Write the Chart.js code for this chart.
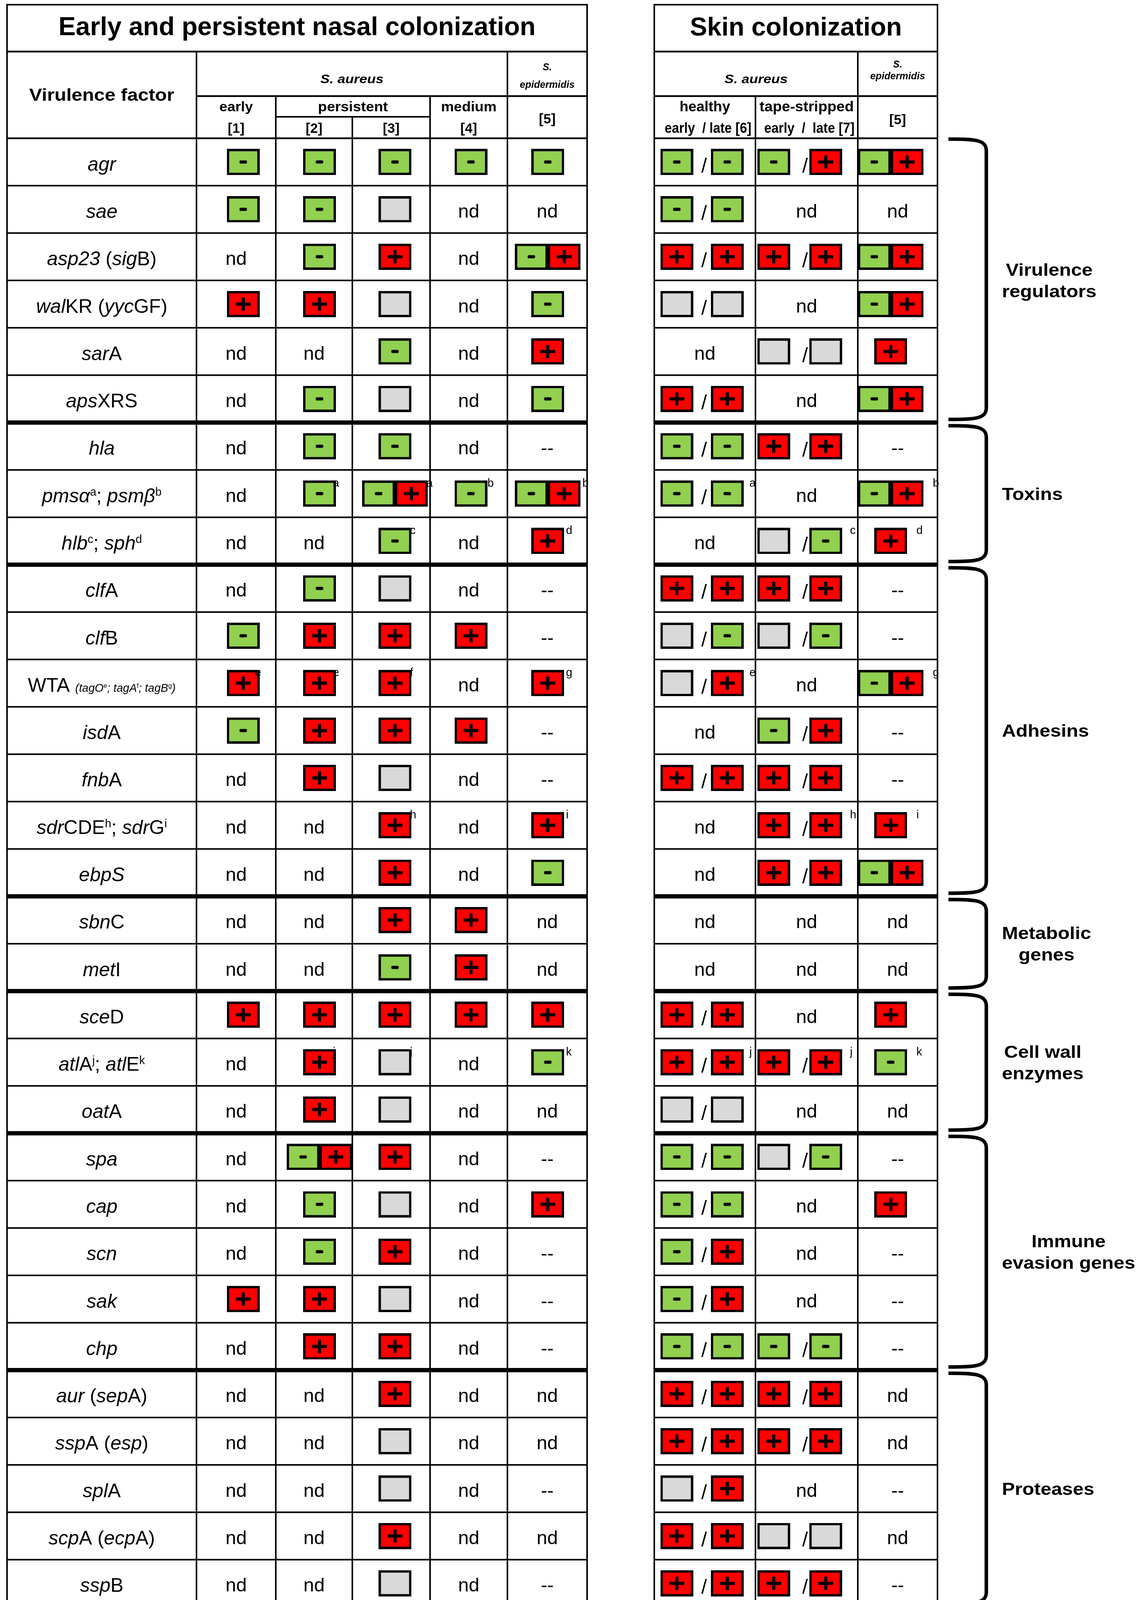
<!DOCTYPE html>
<html>
<head>
<meta charset="utf-8">
<title>Virulence factor expression during colonization</title>
<script src="https://cdn.jsdelivr.net/npm/chart.js@4.4.1/dist/chart.umd.min.js"></script>
<style>
  html, body { margin: 0; padding: 0; background: #ffffff; overflow: hidden; }
  canvas { display: block; }
</style>
</head>
<body>
<canvas id="chart" width="2921" height="4145" style="width:2921px;height:4145px"></canvas>
<script>
// ---------------- DATA ----------------
// Markup in gene labels: _x_ = italic, ^c = superscript char, ~x~ = small text
const GENES = [
  '_agr_', '_sae_', '_asp23_ (_sig_B)', '_wal_KR (_yyc_GF)', '_sar_A', '_aps_XRS',
  '_hla_', '_pmsα_^a; _psmβ_^b', '_hlb_^c; _sph_^d',
  '_clf_A', '_clf_B', 'WTA ~_(tagO_^e_; tagA_^f_; tagB_^g_)_~', '_isd_A', '_fnb_A', '_sdr_CDE^h; _sdr_G^i', '_ebpS_',
  '_sbn_C', '_met_I',
  '_sce_D', '_atl_A^j; _atl_E^k', '_oat_A',
  '_spa_', '_cap_', '_scn_', '_sak_', '_chp_',
  '_aur_ (_sep_A)', '_ssp_A (_esp_)', '_spl_A', '_scp_A (_ecp_A)', '_ssp_B'
];
const GROUP_NAMES = ['Virulence\nregulators', 'Toxins', 'Adhesins', 'Metabolic\ngenes', 'Cell wall\nenzymes', 'Immune\nevasion genes', 'Proteases'];
const GROUP_SIZES = [6, 3, 7, 2, 3, 5, 5];

const TITLES = ['Early and persistent nasal colonization', 'Skin colonization'];
const ROW_HEADER = 'Virulence factor';
const SPECIES = ['S. aureus', 'S.', 'epidermidis'];
const NASAL_GROUPS = ['early', 'persistent', 'medium'];
const NASAL_REFS = ['[1]', '[2]', '[3]', '[4]', '[5]'];
const SKIN_GROUPS = ['healthy', 'tape-stripped'];
const SKIN_REFS = ['early  / late [6]', 'early  /  late [7]', '[5]'];

// Cell codes: '-' decreased (green), '+' increased (red), '0' unchanged (grey),
// '-+' both, 'nd' not determined, '--' not applicable; '^x' footnote; 'a/b' early/late
const NASAL_EARLY_1 = ['-','-','nd','+','nd','nd','nd','nd','nd','nd','-','+^e','-','nd','nd','nd','nd','nd','+','nd','nd','nd','nd','nd','+','nd','nd','nd','nd','nd','nd'];
const NASAL_PERSISTENT_2 = ['-','-','-','+','nd','-','-','-^a','nd','-','+','+^e','+','+','nd','nd','nd','nd','+','+^j','+','-+','-','-','+','+','nd','nd','nd','nd','nd'];
const NASAL_PERSISTENT_3 = ['-','0','+','0','-','0','-','-+^a','-^c','0','+','+^f','+','0','+^h','+','+','-','+','0^j','0','+','0','+','0','+','+','0','0','+','0'];
const NASAL_MEDIUM_4 = ['-','nd','nd','nd','nd','nd','nd','-^b','nd','nd','+','nd','+','nd','nd','nd','+','+','+','nd','nd','nd','nd','nd','nd','nd','nd','nd','nd','nd','nd'];
const NASAL_SEPI_5 = ['-','nd','-+','-','+','-','--','-+^b','+^d','--','--','+^g','--','--','+^i','-','nd','nd','+','-^k','nd','--','+','--','--','--','nd','nd','--','nd','--'];
const SKIN_HEALTHY_6 = ['-/-','-/-','+/+','0/0','nd','+/+','-/-','-/-^a','nd','+/+','0/-','0/+^e','nd','+/+','nd','nd','nd','nd','+/+','+/+^j','0/0','-/-','-/-','-/+','-/+','-/-','+/+','+/+','0/+','+/+','+/+'];
const SKIN_TAPE_7 = ['-/+','nd','+/+','nd','0/0','nd','+/+','nd','0/-^c','+/+','0/-','nd','-/+','+/+','+/+^h','+/+','nd','nd','nd','+/+^j','nd','0/-','nd','nd','nd','-/-','+/+','+/+','nd','0/0','+/+'];
const SKIN_SEPI_5 = ['-+','nd','-+','-+','+','-+','--','-+^b','+^d','--','--','-+^g','--','--','+^i','-+','nd','nd','+','-^k','nd','--','+','--','--','--','nd','nd','--','nd','--'];

// ---------------- LAYOUT / STYLE ----------------
const LAYOUT = {
  left: [18, 503, 706, 902, 1101, 1299, 1503],
  right: [1675, 1934, 2196, 2400],
  top: 12, titleBottom: 132, subBottom: 246, persistBottom: 299,
  padTop: 354, padBottom: 21,
  thin: 4, thick: 11,
  box: { w: 84, h: 67, border: 6 },
  bracketX0: 2428, bracketX1: 2525, bracketW: 9,
  groupLabelLeft: 2565
};
const FILL = { '-': '#92D050', '+': '#FF0000', '0': '#D9D9D9' };
const FAMILY = '"Liberation Sans", Arial, Helvetica, sans-serif';
const font = (size, bold, italic) => `${italic ? 'italic ' : ''}${bold ? 'bold ' : ''}${size}px ${FAMILY}`;
const mid = (a, b) => (a + b) / 2;

const L = LAYOUT.left, R = LAYOUT.right;
const COLUMNS = [
  { values: NASAL_EARLY_1, cx: mid(L[1], L[2]) },
  { values: NASAL_PERSISTENT_2, cx: mid(L[2], L[3]) },
  { values: NASAL_PERSISTENT_3, cx: mid(L[3], L[4]) },
  { values: NASAL_MEDIUM_4, cx: mid(L[4], L[5]) },
  { values: NASAL_SEPI_5, cx: mid(L[5], L[6]) },
  { values: SKIN_HEALTHY_6, cx: mid(R[0], R[1]), pair: [-66, 66], slash: -2 },
  { values: SKIN_TAPE_7, cx: mid(R[1], R[2]), pair: [-73, 63], slash: -4 },
  { values: SKIN_SEPI_5, cx: mid(R[2], R[3]) }
];

function parseCell(v) {
  if (v === 'nd' || v === '--') return { text: v, codes: [], note: '' };
  const [main, note] = v.split('^');
  return { text: null, codes: main.split('/'), note: note || '' };
}

// icons used as Chart.js point styles
function makeIcon(parts) {
  const { w, h, border: b } = LAYOUT.box;
  const c = document.createElement('canvas');
  c.width = w * parts.length; c.height = h;
  const g = c.getContext('2d');
  parts.forEach((p, k) => {
    const x0 = k * w;
    g.fillStyle = '#000'; g.fillRect(x0, 0, w, h);
    g.fillStyle = FILL[p]; g.fillRect(x0 + b, b, w - 2 * b, h - 2 * b);
    g.fillStyle = '#000';
    const cx = x0 + w / 2, cy = h / 2;
    if (p === '-') {
      g.beginPath();
      g.roundRect(cx - 9.5, cy - 4, 19, 8, 3);
      g.fill();
    } else if (p === '+') {
      g.fillRect(cx - 4, cy - 17, 8, 34);
      g.fillRect(cx - 19, cy - 4, 38, 8);
    }
  });
  return c;
}
const ICONS = { '-': makeIcon(['-']), '+': makeIcon(['+']), '0': makeIcon(['0']), '-+': makeIcon(['-', '+']) };

// datasets: one per column, a point per box
const datasets = COLUMNS.map((col, ci) => {
  const data = [];
  col.values.forEach((v, i) => {
    const cell = parseCell(v);
    if (cell.text) return;
    if (col.pair) {
      cell.codes.forEach((code, k) => data.push({ x: col.cx + col.pair[k], y: GENES[i], icon: code }));
    } else {
      data.push({ x: col.cx, y: GENES[i], icon: cell.codes[0] });
    }
  });
  return {
    label: 'column ' + ci,
    data,
    pointStyle: (c) => ICONS[c.raw.icon],
    pointRadius: 30,
    pointHoverRadius: 30,
    pointHitRadius: 0,
    showLine: false
  };
});

// ---------------- DRAWING HELPERS ----------------
function txt(ctx, s, x, y, f, sx = 1, align = 'center') {
  ctx.save();
  ctx.font = f;
  ctx.fillStyle = '#000';
  ctx.textAlign = align;
  ctx.textBaseline = 'alphabetic';
  ctx.translate(x, y);
  ctx.scale(sx, 1);
  ctx.fillText(s, 0, 0);
  ctx.restore();
}

function parseMarkup(m) {
  const segs = [];
  let it = false, small = false, buf = '';
  const flush = () => { if (buf) segs.push({ t: buf, it, small, sup: false }); buf = ''; };
  for (let i = 0; i < m.length; i++) {
    const ch = m[i];
    if (ch === '_') { flush(); it = !it; }
    else if (ch === '~') { flush(); small = !small; }
    else if (ch === '^') { flush(); segs.push({ t: m[++i], it: false, small, sup: true }); }
    else buf += ch;
  }
  flush();
  return segs;
}

function drawRich(ctx, markup, cx, baseline, size) {
  const segs = parseMarkup(markup);
  ctx.save();
  ctx.fillStyle = '#000';
  ctx.textAlign = 'left';
  ctx.textBaseline = 'alphabetic';
  let total = 0;
  segs.forEach(s => {
    const base = s.small ? size * 0.58 : size;
    s.size = s.sup ? base * 0.58 : base;
    s.dy = s.sup ? -base * 0.34 : 0;
    s.f = font(s.size, false, s.it);
    ctx.font = s.f;
    s.w = ctx.measureText(s.t).width;
    total += s.w;
  });
  let x = cx - total / 2;
  segs.forEach(s => {
    ctx.font = s.f;
    ctx.fillText(s.t, x, baseline + s.dy);
    x += s.w;
  });
  ctx.restore();
}

function rows(chart) {
  const y = chart.scales.y;
  const centers = GENES.map((g, i) => y.getPixelForValue(i));
  const band = Math.abs(centers[1] - centers[0]);
  const boundary = (i) => (i < GENES.length ? centers[i] - band / 2 : centers[GENES.length - 1] + band / 2);
  return { centers, band, boundary };
}

// ---------------- PLUGIN ----------------
const tablePlugin = {
  id: 'tableDecor',
  beforeDraw(chart) {
    const ctx = chart.ctx;
    ctx.save();
    ctx.fillStyle = '#fff';
    ctx.fillRect(0, 0, chart.width, chart.height);
    ctx.restore();
  },
  beforeDatasetsDraw(chart) {
    const ctx = chart.ctx;
    const { boundary } = rows(chart);
    const N = GENES.length;
    const lw = LAYOUT.thin;
    const bot = boundary(N), hb = boundary(0);
    const { top, titleBottom: tb, subBottom: sb, persistBottom: pb } = LAYOUT;
    ctx.save();
    ctx.fillStyle = '#000';
    const hl = (x1, x2, y, w) => ctx.fillRect(x1 - lw / 2, y - w / 2, x2 - x1 + lw, w);
    const vl = (x, y1, y2, w) => ctx.fillRect(x - w / 2, y1, w, y2 - y1);
    // left table header
    hl(L[0], L[6], top, lw);
    hl(L[0], L[6], tb, lw + 0.5);
    hl(L[1], L[6], sb, lw + 0.5);
    hl(L[2], L[4], pb, lw);
    vl(L[0], top, bot, lw); vl(L[6], top, bot, lw);
    vl(L[1], tb, bot, lw); vl(L[5], tb, bot, lw);
    vl(L[2], sb, bot, lw); vl(L[4], sb, bot, lw);
    vl(L[3], pb, bot, lw);
    // right table header
    hl(R[0], R[3], top, lw);
    hl(R[0], R[3], tb, lw + 0.5);
    hl(R[0], R[3], sb, lw + 0.5);
    vl(R[0], top, bot, lw); vl(R[3], top, bot, lw);
    vl(R[2], tb, bot, lw);
    vl(R[1], sb, bot, lw);
    // row separators
    const thickAt = new Set();
    let acc = 0;
    GROUP_SIZES.slice(0, -1).forEach(n => { acc += n; thickAt.add(acc); });
    for (let i = 0; i <= N; i++) {
      const y = boundary(i);
      const w = thickAt.has(i) ? LAYOUT.thick : (i === 0 ? lw + 0.5 : lw);
      hl(L[0], L[6], y, w);
      hl(R[0], R[3], y, w);
    }
    ctx.restore();

    // brackets
    ctx.save();
    ctx.strokeStyle = '#000';
    ctx.lineWidth = LAYOUT.bracketW;
    ctx.lineJoin = 'round';
    const x0 = LAYOUT.bracketX0, x1 = LAYOUT.bracketX1;
    let start = 0;
    GROUP_SIZES.forEach((n) => {
      const yT = boundary(start) + (start === 0 ? 2 : 8);
      const yB = boundary(start + n) - 8;
      ctx.beginPath();
      ctx.moveTo(x0, yT);
      ctx.bezierCurveTo(x0 + 70, yT, x1, yT + 2, x1, yT + 30);
      ctx.lineTo(x1, yB - 30);
      ctx.bezierCurveTo(x1, yB - 2, x0 + 70, yB, x0, yB);
      ctx.stroke();
      start += n;
    });
    ctx.restore();
  },
  afterDatasetsDraw(chart) {
    const ctx = chart.ctx;
    const { centers, boundary } = rows(chart);

    // header texts
    txt(ctx, TITLES[0], mid(L[0], L[6]), 90, font(66, true));
    txt(ctx, TITLES[1], mid(R[0], R[3]), 91, font(66, true));
    txt(ctx, ROW_HEADER, mid(L[0], L[1]), 258, font(44, true), 1.12);
    txt(ctx, SPECIES[0], mid(L[1], L[5]), 213, font(31, true, true), 1.16);
    txt(ctx, SPECIES[1], mid(L[5], L[6]), 180, font(25, true, true));
    txt(ctx, SPECIES[2], mid(L[5], L[6]), 225, font(25, true, true));
    txt(ctx, NASAL_GROUPS[0], mid(L[1], L[2]), 285, font(35, true), 1.05);
    txt(ctx, NASAL_GROUPS[1], mid(L[2], L[4]), 285, font(35, true), 1.07);
    txt(ctx, NASAL_GROUPS[2], mid(L[4], L[5]), 285, font(35, true), 1.06);
    NASAL_REFS.slice(0, 4).forEach((r, k) => txt(ctx, r, mid(L[k + 1], L[k + 2]), 340, font(35, true)));
    txt(ctx, NASAL_REFS[4], mid(L[5], L[6]), 316, font(35, true));

    txt(ctx, SPECIES[0], mid(R[0], R[2]), 213, font(31, true, true), 1.16);
    txt(ctx, SPECIES[1], mid(R[2], R[3]), 173, font(25, true, true));
    txt(ctx, SPECIES[2], mid(R[2], R[3]), 203, font(25, true, true));
    txt(ctx, SKIN_GROUPS[0], mid(R[0], R[1]), 285, font(37, true));
    txt(ctx, SKIN_GROUPS[1], mid(R[1], R[2]), 285, font(37, true), 1.03);
    txt(ctx, SKIN_REFS[0], mid(R[0], R[1]) + 8, 340, font(37, true), 0.9);
    txt(ctx, SKIN_REFS[1], mid(R[1], R[2]) + 7, 340, font(37, true), 0.9);
    txt(ctx, SKIN_REFS[2], mid(R[2], R[3]), 318, font(35, true));

    // row labels
    GENES.forEach((g, i) => drawRich(ctx, g, mid(L[0], L[1]), centers[i] + 22, 50));

    // cell texts, slashes and footnotes
    const { w: bw, h: bh } = LAYOUT.box;
    COLUMNS.forEach(col => {
      col.values.forEach((v, i) => {
        const cy = centers[i];
        const cell = parseCell(v);
        if (cell.text) {
          txt(ctx, cell.text, col.cx, cy + 21, font(49));
          return;
        }
        let rightEdge;
        if (col.pair) {
          txt(ctx, '/', col.cx + col.slash, cy + 27, font(52));
          const last = cell.codes[cell.codes.length - 1];
          rightEdge = col.cx + col.pair[1] + (last === '-+' ? bw : bw / 2);
        } else {
          rightEdge = col.cx + (cell.codes[0] === '-+' ? bw : bw / 2);
        }
        if (cell.note) {
          txt(ctx, cell.note, rightEdge + 6, cy - bh / 2 + 16, font(29), 1, 'left');
        }
      });
    });

    // group labels
    let start = 0;
    GROUP_NAMES.forEach((name, gi) => {
      const n = GROUP_SIZES[gi];
      const cyG = mid(boundary(start), boundary(start + n));
      const lines = name.split('\n');
      ctx.save();
      ctx.font = font(45, true);
      const sx = 1.1;
      const blockW = Math.max(...lines.map(l => ctx.measureText(l).width)) * sx;
      ctx.restore();
      lines.forEach((ln, k) => {
        const base = cyG + 16 + (k - (lines.length - 1) / 2) * 55;
        txt(ctx, ln, LAYOUT.groupLabelLeft + blockW / 2, base, font(45, true), sx);
      });
      start += n;
    });
  }
};

// ---------------- CHART ----------------
new Chart(document.getElementById('chart'), {
  type: 'scatter',
  data: { labels: GENES, datasets },
  options: {
    responsive: false,
    animation: false,
    devicePixelRatio: 1,
    events: [],
    layout: { padding: { top: LAYOUT.padTop, bottom: LAYOUT.padBottom, left: 0, right: 0 } },
    scales: {
      x: { type: 'linear', min: 0, max: 2921, display: false },
      y: { type: 'category', labels: GENES, offset: true, display: false, min: GENES[0], max: GENES[GENES.length - 1] }
    },
    plugins: { legend: { display: false }, tooltip: { enabled: false }, title: { display: false } }
  },
  plugins: [tablePlugin]
});
</script>
</body>
</html>
